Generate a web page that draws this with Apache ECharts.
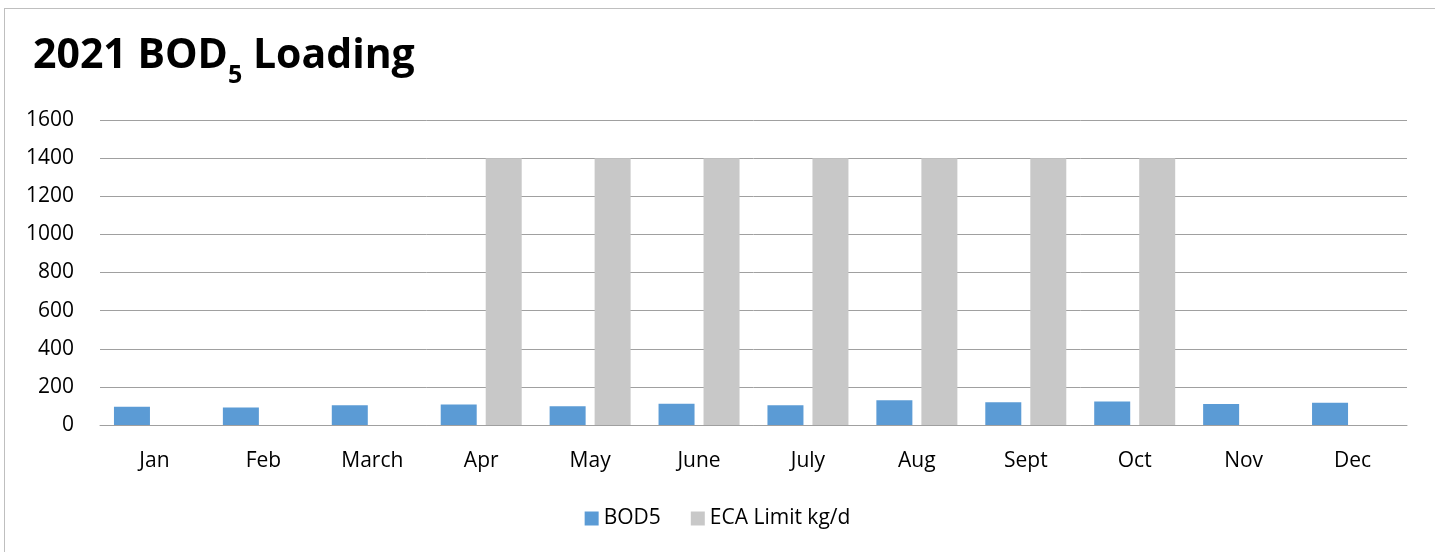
<!DOCTYPE html>
<html>
<head>
<meta charset="utf-8">
<script src="https://cdn.jsdelivr.net/npm/echarts@6/dist/echarts.min.js"></script>
<style>
  html, body { margin: 0; padding: 0; background: #fff; }
  #frame { position: absolute; left: 4px; top: 8px; width: 1440px; height: 560px; border: 1px solid #bfbfbf; box-sizing: border-box; }
  #chart { position: absolute; left: 0; top: 0; width: 1435px; height: 552px; }
</style>
</head>
<body>
<div id="frame"></div>
<div id="chart"></div>
<script>
// 月份和数据
var months = ['Jan', 'Feb', 'March', 'Apr', 'May', 'June', 'July', 'Aug', 'Sept', 'Oct', 'Nov', 'Dec'];
var bod5 = [96, 92, 103, 108, 99, 111, 103, 130, 120, 123, 110, 117];
var ecaLimit = [0, 0, 0, 1400, 1400, 1400, 1400, 1400, 1400, 1400, 0, 0];
var yTicks = [0, 200, 400, 600, 800, 1000, 1200, 1400, 1600];

var font = '"Open Sans", Lato, sans-serif';
var myChart = echarts.init(document.getElementById('chart'));

var option = {
  backgroundColor: 'transparent',
  animation: false,
  title: {
    left: 28,
    top: 20,
    text: '{a|2021 BOD}{s|5}{a| Loading}',
    textStyle: {
      rich: {
        a: { fontFamily: font, fontWeight: 'bold', fontSize: 41, color: '#000', verticalAlign: 'bottom', lineHeight: 52 },
        s: { fontFamily: font, fontWeight: 'bold', fontSize: 25, color: '#000', verticalAlign: 'bottom', lineHeight: 38, padding: [0, 0, -11, 0] }
      }
    }
  },
  legend: {
    bottom: 18,
    left: 'center',
    itemWidth: 14,
    itemHeight: 14,
    itemGap: 30,
    icon: 'rect',
    textStyle: { fontFamily: font, fontSize: 21, color: '#000' },
    data: ['BOD5', 'ECA Limit kg/d']
  },
  grid: { left: 100, right: 28, top: 120, bottom: 127 },
  xAxis: {
    type: 'category',
    data: months,
    axisLine: { lineStyle: { color: '#a0a0a0', width: 1 } },
    axisTick: { show: false },
    axisLabel: { fontFamily: font, fontSize: 21, color: '#000', margin: 26 }
  },
  yAxis: {
    type: 'value',
    min: 0,
    max: yTicks[yTicks.length - 1],
    interval: 200,
    axisLine: { show: false },
    axisTick: { show: false },
    splitLine: { lineStyle: { color: '#a0a0a0', width: 1 } },
    axisLabel: {
      fontFamily: font, fontSize: 21, color: '#000', margin: 26,
      formatter: function (v) { return String(v); }
    }
  },
  series: [
    {
      name: 'BOD5',
      type: 'bar',
      data: bod5,
      itemStyle: { color: '#5b9bd5' },
      barWidth: 36,
      barGap: '25%'
    },
    {
      name: 'ECA Limit kg/d',
      type: 'bar',
      data: ecaLimit,
      itemStyle: { color: '#c8c8c8' },
      barWidth: 36
    }
  ]
};

myChart.setOption(option, true);
</script>
</body>
</html>
